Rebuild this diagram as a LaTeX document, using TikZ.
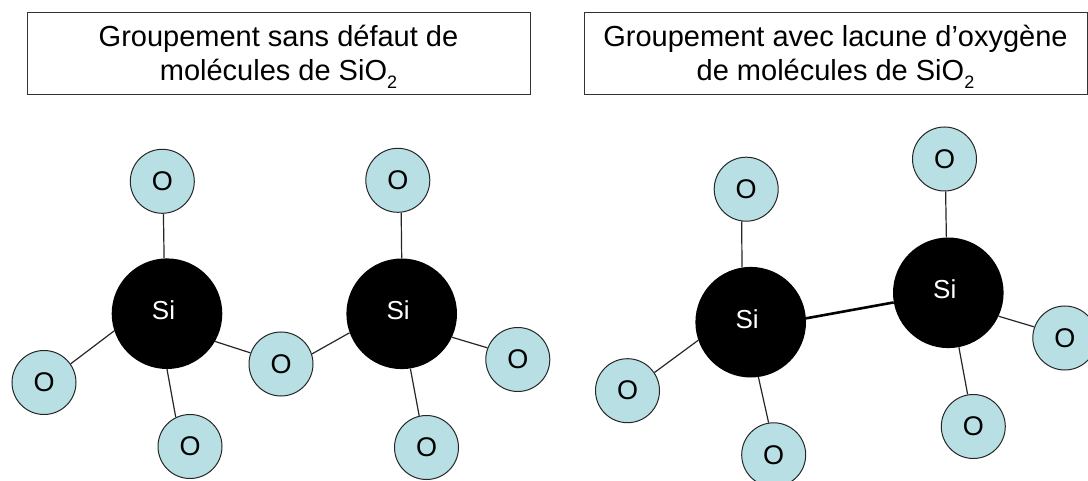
\documentclass[tikz,border=0pt]{standalone}
\usepackage{fontspec}
\setmainfont{Liberation Sans}
\usetikzlibrary{backgrounds}
\definecolor{oxyBlue}{RGB}{184, 224, 228}
\newcommand{\subtwo}{\raisebox{-8pt}{\fontsize{18}{18}\selectfont 2}}
\newcommand{\silabel}{\raisebox{7pt}{Si\kern 7pt}}
\begin{document}
\begin{tikzpicture}[
    x=1pt, y=-1pt,
    % Node styles
    titlebox/.style={
        rectangle,
        draw=black!80,
        line width=1pt,
        inner sep=0pt,
        align=center,
        font=\fontsize{29}{34}\selectfont
    },
    oxygen/.style={
        circle,
        draw=black!85,
        fill=oxyBlue,
        line width=1pt,
        minimum size=64pt,
        inner sep=0pt,
        font=\fontsize{27}{27}\selectfont
    },
    silicon/.style={
        circle,
        fill=black,
        text=white,
        minimum size=110.6pt,
        inner sep=0pt,
        font=\fontsize{26}{26}\selectfont
    },
    % Bond styles
    bond/.style={line width=1.2pt, draw=black!85},
    weakbond/.style={line width=2.6pt, draw=black}
]
\useasboundingbox (0,0) rectangle (1088,481);
\clip (0,0) rectangle (1088,481);

% ============================================
% TITLES
% ============================================
\node[titlebox, minimum width=503pt, minimum height=82.5pt] (titleleft) at (278.5,53.7) {\rule{0pt}{27pt}Groupement sans défaut de\\molécules de SiO\subtwo};
\node[titlebox, minimum width=503pt, minimum height=82.5pt] (titleright) at (835.5,53.7) {\rule{0pt}{27pt}Groupement avec lacune d’oxygène\\de molécules de SiO\subtwo};

% ============================================
% LEFT GROUP
% ============================================
\node[silicon] (siA) at (167,313.7) {\silabel};
\node[silicon] (siB) at (401.7,313.8) {\silabel};
\node[oxygen] (oA) at (162.3,181.3) {O};
\node[oxygen] (oB) at (44,382.5) {O};
\node[oxygen] (oC) at (190,446.5) {O};
\node[oxygen] (oD) at (281,364) {O};
\node[oxygen] (oE) at (397.8,180.3) {O};
\node[oxygen] (oF) at (517.8,359.5) {O};
\node[oxygen] (oG) at (426.5,447.5) {O};

% ============================================
% RIGHT GROUP
% ============================================
\node[silicon] (siC) at (750.7,322.2) {\silabel};
\node[silicon] (siD) at (948.3,292.8) {\silabel};
\node[oxygen] (oH) at (746.2,189.2) {O};
\node[oxygen] (oI) at (944.5,159) {O};
\node[oxygen] (oJ) at (627.5,390.7) {O};
\node[oxygen] (oK) at (773.7,454.8) {O};
\node[oxygen] (oL) at (973.3,426.5) {O};
\node[oxygen] (oM) at (1064.8,338) {O};

% ============================================
% BONDS
% ============================================
\begin{scope}[on background layer]
    \foreach \a/\angA/\b/\angB in {
        siA/93.4/oA/272.5, siA/198.9/oB/35.6, siA/270/oC/116, siA/330.9/oD/160.9,
        siB/200.8/oD/18.9, siB/90.4/oE/276, siB/335.8/oF/159.6, siB/279/oG/103.3,
        siC/99.4/oH/262, siC/199.4/oJ/34.6, siC/278.6/oK/99,
        siD/92.7/oI/272, siD/281.3/oL/100.7, siD/335.8/oM/160.7}
        \draw[bond] (\a.\angA) -- (\b.\angB);
    % Bond left by the oxygen vacancy
    \draw[weakbond] (siC.4) -- (siD.190.2);
\end{scope}

\end{tikzpicture}
\end{document}
